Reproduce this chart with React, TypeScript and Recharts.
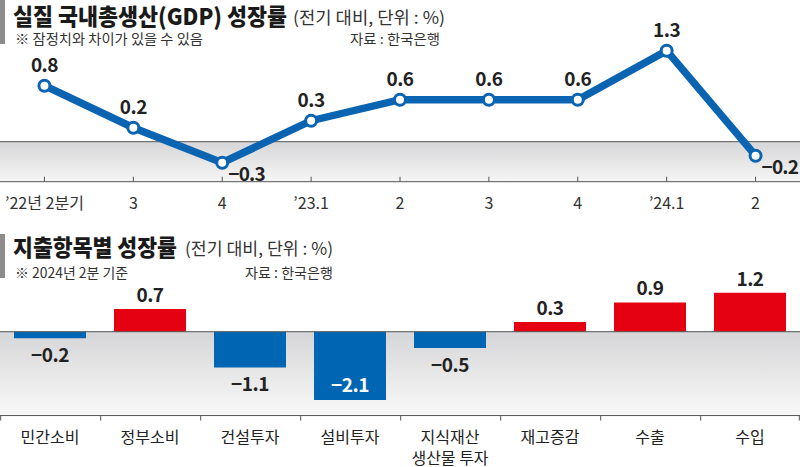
import React from 'react';
import {
  LineChart, Line, XAxis, YAxis, ReferenceArea, ReferenceLine,
  BarChart, Bar, Cell, LabelList,
} from 'recharts';

// ---------- data ----------
const quarters = ['’22년 2분기', '3', '4', '’23.1', '2', '3', '4', '’24.1', '2'];
const gdpGrowth = [0.8, 0.2, -0.3, 0.3, 0.6, 0.6, 0.6, 1.3, -0.2];

const items = ['민간소비', '정부소비', '건설투자', '설비투자', '지식재산\n생산물 투자', '재고증감', '수출', '수입'];
const itemGrowth = [-0.2, 0.7, -1.1, -2.1, -0.5, 0.3, 0.9, 1.2];

const lineData = quarters.map((q, i) => ({ q, v: gdpGrowth[i] }));
const barData = items.map((name, i) => ({ name, v: itemGrowth[i] }));

// ---------- style ----------
const FONT = "'Noto Sans CJK KR', 'Noto Sans', sans-serif";
const BLUE = '#0a64b2';
const BAR_BLUE = '#0066b3';
const RED = '#e50012';
const W = 800;

const LINE_H = 215;
const LINE_MARGIN = { top: 40.2, right: 0, bottom: 0, left: 0 };
const LINE_XAXIS_H = 33.3;
const LINE_DOMAIN: [number, number] = [-0.5714, 1.45];
const LINE_PAD = W / quarters.length / 2;

const BAR_TOP = 255;
const BAR_H = 212;
const BAR_MARGIN = { top: 29.6, right: 0, bottom: 0, left: 0 };
const BAR_XAXIS_H = 51.45;
const BAR_DOMAIN: [number, number] = [-2.58, 1.45];

const fmt = (v: number) => (v < 0 ? '−' + Math.abs(v).toFixed(1) : v.toFixed(1));

const LineTick = (props: any) => {
  const { x, y, payload } = props;
  return (
    <g>
      <line x1={x} x2={x} y1={y} y2={y - 5} stroke="#555" strokeWidth={1} />
      <text x={x} y={y + 20} textAnchor="middle" dominantBaseline="central"
        fontFamily={FONT} fontSize={16} fill="#333">{payload.value}</text>
    </g>
  );
};

const LineLabel = (props: any) => {
  const { x, y, value } = props;
  if (value < 0) {
    return (
      <text x={x + 6} y={y + 10} textAnchor="start" dominantBaseline="central" letterSpacing={-0.8}
        fontFamily={FONT} fontSize={19} fontWeight={700} fill="#222">{fmt(value)}</text>
    );
  }
  return (
    <text x={x} y={y - 22.5} textAnchor="middle" dominantBaseline="central" letterSpacing={-0.5}
      fontFamily={FONT} fontSize={19} fontWeight={700} fill="#222">{fmt(value)}</text>
  );
};

const BarTick = (props: any) => {
  const { x, y, payload, index } = props;
  const half = W / items.length / 2;
  const lines = String(payload.value).split('\n');
  return (
    <g>
      <line x1={x - half + 0.7} x2={x - half + 0.7} y1={y} y2={y + 5} stroke="#555" strokeWidth={1} />
      {index === items.length - 1 && (
        <line x1={x + half - 0.7} x2={x + half - 0.7} y1={y} y2={y + 5} stroke="#555" strokeWidth={1} />
      )}
      {lines.map((l, i) => (
        <text key={i} x={x} y={y + 20.5 + i * 21} textAnchor="middle" dominantBaseline="central"
          fontFamily={FONT} fontSize={16} fill="#222">{l}</text>
      ))}
    </g>
  );
};

const BAR_PLOT_BOTTOM = BAR_H - BAR_MARGIN.bottom - BAR_XAXIS_H;

const BarLabel = (props: any) => {
  const { x, y, width, height, value } = props;
  const top = Math.min(y, y + height);
  const bottom = Math.max(y, y + height);
  const cx = x + width / 2;
  const common = { fontFamily: FONT, fontSize: 19, fontWeight: 700, letterSpacing: -0.5, textAnchor: 'middle' as const, dominantBaseline: 'central' as const };
  if (value >= 0) {
    return <text x={cx} y={top - 15.5} fill="#222" {...common}>{fmt(value)}</text>;
  }
  if (bottom + 30 > BAR_PLOT_BOTTOM) {
    return <text x={cx} y={bottom - 16.5} fill="#fff" {...common}>{fmt(value)}</text>;
  }
  return <text x={cx} y={bottom + 15.5} fill="#222" {...common}>{fmt(value)}</text>;
};

// band shape stretched across the full chart width (beyond the axis padding)
const FullBand = (props: any) => {
  const { y, height, fill } = props;
  return <rect x={0} y={y} width={W} height={height} fill={fill} />;
};

export default function App() {
  return (
    <div style={{ position: 'absolute', left: 0, top: 0, width: W, height: 467, background: '#fff', overflow: 'hidden' }}>
      <div style={{ position: 'absolute', left: 0, top: 0 }}>
        <LineChart width={W} height={LINE_H} data={lineData} margin={LINE_MARGIN}>
          <defs>
            <linearGradient id="bandTop" x1="0" y1="0" x2="0" y2="1">
              <stop offset="0%" stopColor="#d6d6d8" />
              <stop offset="100%" stopColor="#f6f6f6" />
            </linearGradient>
          </defs>
          <XAxis dataKey="q" height={LINE_XAXIS_H} padding={{ left: LINE_PAD, right: LINE_PAD }}
            axisLine={{ stroke: '#555', strokeWidth: 1 }} tickLine={false} tickSize={0} tickMargin={0}
            interval={0} tick={<LineTick />} />
          <YAxis hide domain={LINE_DOMAIN} allowDataOverflow type="number" />
          <ReferenceArea y1={LINE_DOMAIN[0]} y2={0} fill="url(#bandTop)" fillOpacity={1} stroke="none"
            shape={<FullBand />} />
          <ReferenceLine y={0} stroke="#555" strokeWidth={1} />
          <Line type="linear" dataKey="v" stroke={BLUE} strokeWidth={7.5} isAnimationActive={false}
            dot={{ r: 5.5, fill: '#fff', stroke: BLUE, strokeWidth: 3 }} activeDot={false}>
            <LabelList dataKey="v" content={<LineLabel />} />
          </Line>
        </LineChart>
      </div>
      <div style={{ position: 'absolute', left: 0, top: BAR_TOP }}>
        <BarChart width={W} height={BAR_H} data={barData} margin={BAR_MARGIN} barCategoryGap="14%">
          <defs>
            <linearGradient id="bandBot" x1="0" y1="0" x2="0" y2="1">
              <stop offset="0%" stopColor="#d6d6d8" />
              <stop offset="100%" stopColor="#f8f8f8" />
            </linearGradient>
          </defs>
          <XAxis dataKey="name" height={BAR_XAXIS_H} axisLine={{ stroke: '#555', strokeWidth: 1 }}
            tickLine={false} tickSize={0} tickMargin={0} interval={0} tick={<BarTick />} />
          <YAxis hide domain={BAR_DOMAIN} allowDataOverflow type="number" />
          <ReferenceArea y1={BAR_DOMAIN[0]} y2={0} fill="url(#bandBot)" fillOpacity={1} stroke="none" />
          <Bar dataKey="v" isAnimationActive={false}>
            {barData.map((d, i) => (
              <Cell key={i} fill={d.v >= 0 ? RED : BAR_BLUE} />
            ))}
            <LabelList dataKey="v" content={<BarLabel />} />
          </Bar>
          <ReferenceLine y={0} stroke="#555" strokeWidth={1} />
        </BarChart>
      </div>
      <svg width={W} height={467} style={{ position: 'absolute', left: 0, top: 0, pointerEvents: 'none' }}>
        <rect x={0} y={0} width={5} height={44} fill="#8c8c8c" />
        <text x={13} y={15} fontFamily={FONT} fontSize={23} fontWeight={900} fill="#1a1a1a"
          dominantBaseline="central" textLength={274} lengthAdjust="spacingAndGlyphs">실질 국내총생산(GDP) 성장률</text>
        <text x={293} y={16} fontFamily={FONT} fontSize={17} fill="#333"
          dominantBaseline="central" textLength={152} lengthAdjust="spacingAndGlyphs">(전기 대비, 단위 : %)</text>
        <text x={15} y={38} fontFamily={FONT} fontSize={13.5} fill="#333"
          dominantBaseline="central" textLength={188} lengthAdjust="spacingAndGlyphs">※ 잠정치와 차이가 있을 수 있음</text>
        <text x={350} y={38} fontFamily={FONT} fontSize={13.5} fill="#333"
          dominantBaseline="central" textLength={90} lengthAdjust="spacingAndGlyphs">자료 : 한국은행</text>

        <rect x={0} y={234} width={5} height={44} fill="#8c8c8c" />
        <text x={13} y={246} fontFamily={FONT} fontSize={23} fontWeight={900} fill="#1a1a1a"
          dominantBaseline="central" textLength={164} lengthAdjust="spacingAndGlyphs">지출항목별 성장률</text>
        <text x={185} y={247} fontFamily={FONT} fontSize={17} fill="#333"
          dominantBaseline="central" textLength={148} lengthAdjust="spacingAndGlyphs">(전기 대비, 단위 : %)</text>
        <text x={15} y={272} fontFamily={FONT} fontSize={14} fill="#333"
          dominantBaseline="central" textLength={113} lengthAdjust="spacingAndGlyphs">※ 2024년 2분 기준</text>
        <text x={245} y={272} fontFamily={FONT} fontSize={14} fill="#333"
          dominantBaseline="central" textLength={88} lengthAdjust="spacingAndGlyphs">자료 : 한국은행</text>
      </svg>
    </div>
  );
}
